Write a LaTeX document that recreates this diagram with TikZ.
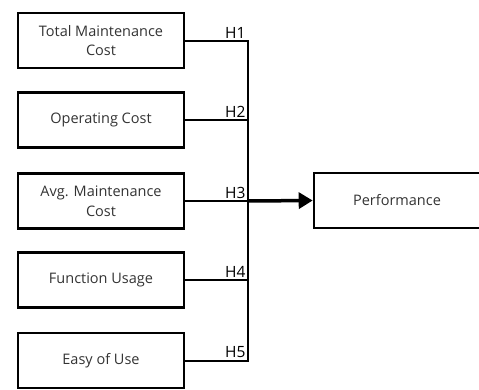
\documentclass[tikz,border=0pt]{standalone}
\usepackage{fontspec}
\setmainfont{Open Sans}
\usetikzlibrary{arrows.meta}
\begin{document}
\begin{tikzpicture}[x=1pt,y=-1pt,
  factor/.style={draw=black,line width=2.6pt,minimum width=166pt,minimum height=55pt,
    align=center,font=\fontsize{14.5}{19.5}\selectfont,text=black!80,inner sep=0pt},
  conn/.style={draw=black,line width=2pt},
  hlabel/.style={anchor=south east,inner sep=1.5pt,font=\fontsize{15.5}{17}\selectfont},
  mainarrow/.style={draw=black,line width=3.5pt,-{Triangle[length=14pt,width=16pt]}}]
\clip (0,0) rectangle (479,389);
\useasboundingbox (0,0) rectangle (479,389);
\node[factor] (b1) at (101,40.5) {Total Maintenance\\Cost};
\node[factor] (b2) at (101,120) {Operating Cost};
\node[factor] (b3) at (101,201) {Avg. Maintenance\\Cost};
\node[factor] (b4) at (101,280) {Function Usage};
\node[factor] (b5) at (101,360.5) {Easy of Use};
\node[factor] (perf) at (397,200.5) {Performance};
\coordinate (bus) at (248,0);
\foreach \i in {1,...,5}{
  \draw[conn] (b\i.east) -- (b\i.east -| bus) node[hlabel] {H\i};
}
\draw[conn,line cap=rect] (b1.east -| bus) -- (b5.east -| bus);
\draw[mainarrow] (b3.east -| bus) -- (perf.west);
\end{tikzpicture}
\end{document}
